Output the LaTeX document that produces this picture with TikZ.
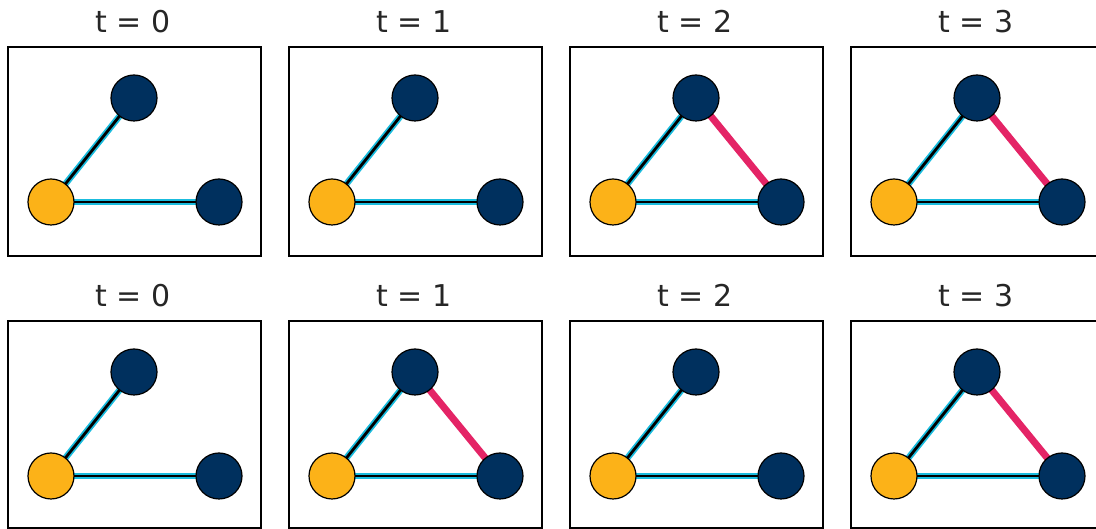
\documentclass[tikz,border=0pt]{standalone}
\usepackage{fontspec}
\setmainfont{DejaVu Sans}
\pgfdeclarelayer{bg}
\pgfsetlayers{bg,main}
\definecolor{navy}{RGB}{0,48,94}
\definecolor{gold}{RGB}{252,178,24}
\definecolor{cyanedge}{RGB}{26,188,222}
\definecolor{pinkedge}{RGB}{228,36,102}
\tikzset{
  panelbox/.style={draw=black, line width=2pt},
  ttl/.style={anchor=base, font=\fontsize{30}{32}\selectfont, text=black!85, inner sep=0pt},
  vnavy/.style={circle, draw=black, line width=1.2pt, fill=navy, minimum size=46pt, inner sep=0pt},
  vgold/.style={circle, draw=black, line width=1.2pt, fill=gold, minimum size=46pt, inner sep=0pt},
  blueedge/.style={draw=cyanedge, double=black, double distance=2.8pt, line width=1.8pt},
  pinkline/.style={draw=pinkedge, line width=7pt},
}
\begin{document}
\begin{tikzpicture}[x=1pt,y=1pt]
\useasboundingbox (0,0) rectangle (1096,529);
% px(x,y) -> (x, 529-y)
\foreach \r/\dy/\bh in {a/0/209, b/274/207}{
  \foreach \c/\dx/\t in {1/0/0, 2/281/1, 3/562/2, 4/843/3}{
    \draw[panelbox] (8+\dx, 529-47-\dy) rectangle (8+\dx+253, 529-47-\bh-\dy);
    \node[ttl] (title\r\c) at (133+\dx, 529-33-\dy) {t = \t};
    \node[vnavy] (top\r\c) at (134+\dx, 529-98-\dy) {};
    \node[vgold] (left\r\c) at (51+\dx, 529-202-\dy) {};
    \node[vnavy] (right\r\c) at (219+\dx, 529-202-\dy) {};
    \begin{pgfonlayer}{bg}
      \draw[blueedge] (left\r\c.center) -- (top\r\c.center);
      \draw[blueedge] (left\r\c.center) -- (right\r\c.center);
    \end{pgfonlayer}
  }
}
\begin{pgfonlayer}{bg}
  \draw[pinkline] (topa3.center) -- (righta3.center);
  \draw[pinkline] (topa4.center) -- (righta4.center);
  \draw[pinkline] (topb2.center) -- (rightb2.center);
  \draw[pinkline] (topb4.center) -- (rightb4.center);
\end{pgfonlayer}
\end{tikzpicture}
\end{document}
